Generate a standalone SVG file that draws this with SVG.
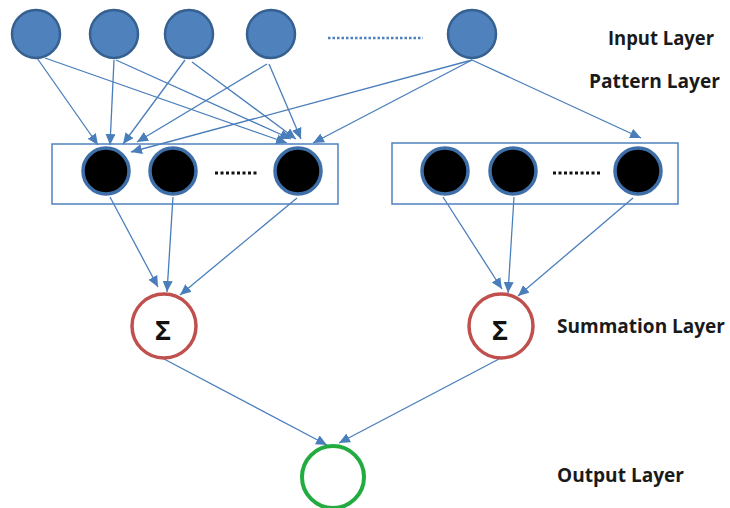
<svg xmlns="http://www.w3.org/2000/svg" width="730" height="508" viewBox="0 0 730 508">
<defs>
<marker id="ah" markerUnits="userSpaceOnUse" markerWidth="13" markerHeight="11" refX="11" refY="5" orient="auto">
<path d="M0,0 L11,5 L0,10 Z" fill="#4a7ebb"/>
</marker>
</defs>
<style>
.inp{fill:#4f81bd;stroke:#35608f;stroke-width:2.5}
.pat{fill:#000;stroke:#3f6fa8;stroke-width:3.5}
.box{fill:none;stroke:#4f81bd;stroke-width:1.5}
.sum{fill:#fff;stroke:#c0504d;stroke-width:3.5}
.out{fill:#fff;stroke:#22ab3f;stroke-width:4}
.e{stroke:#4a7ebb;stroke-width:1.3;fill:none;marker-end:url(#ah)}
.dotb{stroke:#4f81bd;stroke-width:2.5;stroke-dasharray:2.5 2}
.dotk{stroke:#111;stroke-width:3;stroke-dasharray:3 2.5}
.lbl{font-family:"Open Sans","Liberation Sans",sans-serif;font-weight:bold;font-size:19px;fill:#1a1a1a}
.sig{font-family:"Open Sans","Liberation Sans",sans-serif;font-weight:bold;font-size:27px;fill:#111;text-anchor:middle}
</style>
<rect width="730" height="508" fill="#fff"/>
<g id="connectors">
<line class="e" x1="37" y1="58" x2="98" y2="145"/>
<line class="e" x1="45" y1="58" x2="287" y2="143"/>
<line class="e" x1="114" y1="60" x2="110" y2="145"/>
<line class="e" x1="116" y1="60" x2="291" y2="139"/>
<line class="e" x1="185" y1="60" x2="123" y2="144"/>
<line class="e" x1="192" y1="62" x2="296" y2="139"/>
<line class="e" x1="267" y1="64" x2="137" y2="142"/>
<line class="e" x1="269" y1="64" x2="301" y2="139"/>
<line class="e" x1="472" y1="60" x2="131" y2="152"/>
<line class="e" x1="472" y1="60" x2="313" y2="143"/>
<line class="e" x1="472" y1="60" x2="641" y2="138"/>
<line class="e" x1="110" y1="197" x2="158" y2="287"/>
<line class="e" x1="173" y1="197" x2="167" y2="292"/>
<line class="e" x1="297" y1="198" x2="180" y2="295"/>
<line class="e" x1="443" y1="197" x2="502" y2="289"/>
<line class="e" x1="514" y1="197" x2="508" y2="293"/>
<line class="e" x1="633" y1="198" x2="518" y2="296"/>
<line class="e" x1="164" y1="359" x2="327" y2="445"/>
<line class="e" x1="499" y1="359" x2="339" y2="443"/>
</g>
<g id="input-layer">
<circle class="inp" cx="36" cy="34" r="24"/>
<circle class="inp" cx="114" cy="34" r="24"/>
<circle class="inp" cx="189" cy="34" r="24"/>
<circle class="inp" cx="271" cy="34" r="24"/>
<line class="dotb" x1="328" y1="38" x2="423" y2="38"/>
<circle class="inp" cx="472" cy="34" r="24"/>
</g>
<g id="pattern-left">
<rect class="box" x="52" y="144" width="286" height="60"/>
<circle class="pat" cx="106" cy="171" r="23"/>
<circle class="pat" cx="173" cy="171" r="23"/>
<line class="dotk" x1="215" y1="173" x2="258" y2="173"/>
<circle class="pat" cx="298" cy="171" r="23"/>
</g>
<g id="pattern-right">
<rect class="box" x="392" y="143" width="286" height="61"/>
<circle class="pat" cx="445" cy="171" r="23"/>
<circle class="pat" cx="513" cy="171" r="23"/>
<line class="dotk" x1="553" y1="173" x2="600" y2="173"/>
<circle class="pat" cx="638" cy="171" r="23"/>
</g>
<g id="sum-left">
<circle class="sum" cx="164" cy="326" r="32"/>
<text class="sig" x="163" y="340">Σ</text>
</g>
<g id="sum-right">
<circle class="sum" cx="501" cy="326" r="32"/>
<text class="sig" x="500" y="340">Σ</text>
</g>
<g id="output">
<circle class="out" cx="333" cy="477" r="31"/>
</g>
<g id="labels">
<text class="lbl" x="608" y="45" textLength="106" lengthAdjust="spacingAndGlyphs">Input Layer</text>
<text class="lbl" x="589" y="88" textLength="131" lengthAdjust="spacingAndGlyphs">Pattern Layer</text>
<text class="lbl" x="557" y="333" textLength="168" lengthAdjust="spacingAndGlyphs">Summation Layer</text>
<text class="lbl" x="557" y="482" textLength="127" lengthAdjust="spacingAndGlyphs">Output Layer</text>
</g>
</svg>
